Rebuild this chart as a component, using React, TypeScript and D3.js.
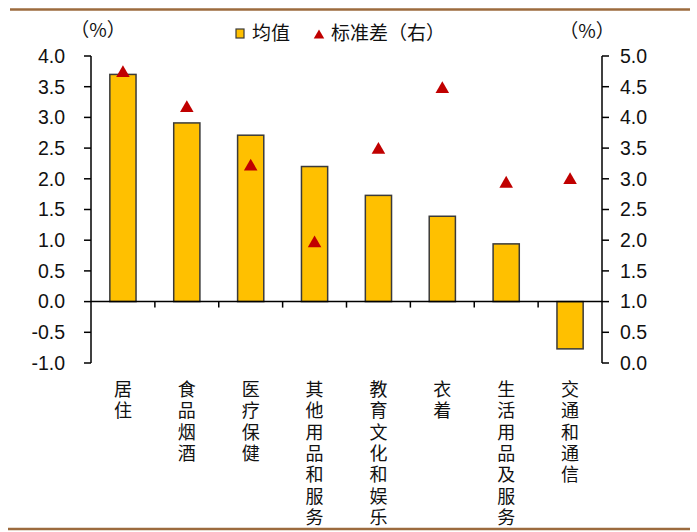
import React from "react";
import * as d3 from "d3";

// Consumer price categories: mean change (left axis, bars) and standard deviation (right axis, triangles)
const categories: string[] = ["居住", "食品烟酒", "医疗保健", "其他用品和服务", "教育文化和娱乐", "衣着", "生活用品及服务", "交通和通信"];
const meanValues: number[] = [3.7, 2.91, 2.71, 2.2, 1.73, 1.39, 0.94, -0.77];
const stdValues: number[] = [4.72, 4.15, 3.2, 1.95, 3.47, 4.46, 2.92, 2.98];
const leftTicks: number[] = [4.0, 3.5, 3.0, 2.5, 2.0, 1.5, 1.0, 0.5, 0.0, -0.5, -1.0];
const rightTicks: number[] = [5.0, 4.5, 4.0, 3.5, 3.0, 2.5, 2.0, 1.5, 1.0, 0.5, 0.0];
const legendMean = "均值";
const legendStd = "标准差（右）";
const unitLabel = "（%）";

const W = 697;
const H = 532;
const plotLeft = 91;
const plotRight = 602;
const plotTop = 56;
const plotBottom = 363;

const numFont = "'Liberation Sans', Arial, sans-serif";
const cjkFont = "'Noto Sans CJK SC', sans-serif";
const barFill = "#FFC000";
const barStroke = "#3a3a3a";
const markerFill = "#C00000";
const frameColor = "#9C6B3E";

export default function App() {
  const x = d3.scaleBand<string>().domain(categories).range([plotLeft, plotRight]).paddingInner(0.59).paddingOuter(0.295);
  const yL = d3.scaleLinear().domain([-1, 4]).range([plotBottom, plotTop]);
  const yR = d3.scaleLinear().domain([0, 5]).range([plotBottom, plotTop]);
  const band = (plotRight - plotLeft) / categories.length;
  const y0 = yL(0);
  const tri = d3.symbol().type(d3.symbolTriangle).size(80)();
  const triLegend = d3.symbol().type(d3.symbolTriangle).size(48)();

  return (
    <svg width={W} height={H} style={{ position: "absolute", left: 0, top: 0, background: "#fff" }}>
      {/* frame rules */}
      <line x1={10} x2={690} y1={9.5} y2={9.5} stroke={frameColor} strokeWidth={2.5} />
      <line x1={8} x2={690} y1={529} y2={529} stroke={frameColor} strokeWidth={2.5} />

      {/* units */}
      <text x={98} y={37} fontFamily={cjkFont} fontSize={19} textAnchor="middle" fill="#111">{unitLabel}</text>
      <text x={587} y={38} fontFamily={cjkFont} fontSize={19} textAnchor="middle" fill="#111">{unitLabel}</text>

      {/* legend */}
      <rect x={236} y={29} width={8} height={9} fill={barFill} stroke={barStroke} strokeWidth={1.2} />
      <text x={252} y={40} fontFamily={cjkFont} fontSize={19} fill="#111">{legendMean}</text>
      <path d={triLegend!} transform="translate(319,35.5)" fill={markerFill} />
      <text x={331} y={40} fontFamily={cjkFont} fontSize={19} fill="#111">{legendStd}</text>

      {/* bars */}
      {categories.map((c, i) => {
        const v = meanValues[i];
        const top = Math.min(yL(v), y0);
        const h = Math.abs(yL(v) - y0);
        return <rect key={c} x={x(c)!} y={top} width={x.bandwidth()} height={h} fill={barFill} stroke={barStroke} strokeWidth={1.5} />;
      })}

      {/* zero line */}
      <line x1={plotLeft} x2={plotRight} y1={y0} y2={y0} stroke="#000" strokeWidth={1.5} />
      {categories.slice(1).map((c, i) => {
        const bx = plotLeft + band * (i + 1);
        return <line key={"ct" + c} x1={bx} x2={bx} y1={y0} y2={y0 + 6} stroke="#000" strokeWidth={1.5} />;
      })}

      {/* left axis */}
      <line x1={plotLeft} x2={plotLeft} y1={plotTop} y2={plotBottom} stroke="#000" strokeWidth={1.5} />
      {leftTicks.map((t) => (
        <g key={"l" + t}>
          <line x1={plotLeft - 7} x2={plotLeft} y1={yL(t)} y2={yL(t)} stroke="#000" strokeWidth={1.5} />
          <text x={65} y={yL(t)} dy="0.35em" textAnchor="end" fontFamily={numFont} fontSize={19.5} fill="#111">{t.toFixed(1)}</text>
        </g>
      ))}

      {/* right axis */}
      <line x1={plotRight} x2={plotRight} y1={plotTop} y2={plotBottom} stroke="#000" strokeWidth={1.5} />
      {rightTicks.map((t) => (
        <g key={"r" + t}>
          <line x1={plotRight} x2={plotRight + 7} y1={yR(t)} y2={yR(t)} stroke="#000" strokeWidth={1.5} />
          <text x={620} y={yR(t)} dy="0.35em" textAnchor="start" fontFamily={numFont} fontSize={19.5} fill="#111">{t.toFixed(1)}</text>
        </g>
      ))}

      {/* standard deviation markers */}
      {categories.map((c, i) => (
        <path key={"m" + c} d={tri!} transform={`translate(${x(c)! + x.bandwidth() / 2},${yR(stdValues[i])})`} fill={markerFill} />
      ))}

      {/* vertical category labels */}
      {categories.map((c) => {
        const cx = x(c)! + x.bandwidth() / 2;
        return (
          <text
            key={"lab" + c}
            x={cx}
            y={380}
            fontFamily={cjkFont}
            fontSize={18}
            letterSpacing={3.4}
            fill="#111"
            style={{ writingMode: "vertical-rl" }}
          >
            {c}
          </text>
        );
      })}
    </svg>
  );
}
